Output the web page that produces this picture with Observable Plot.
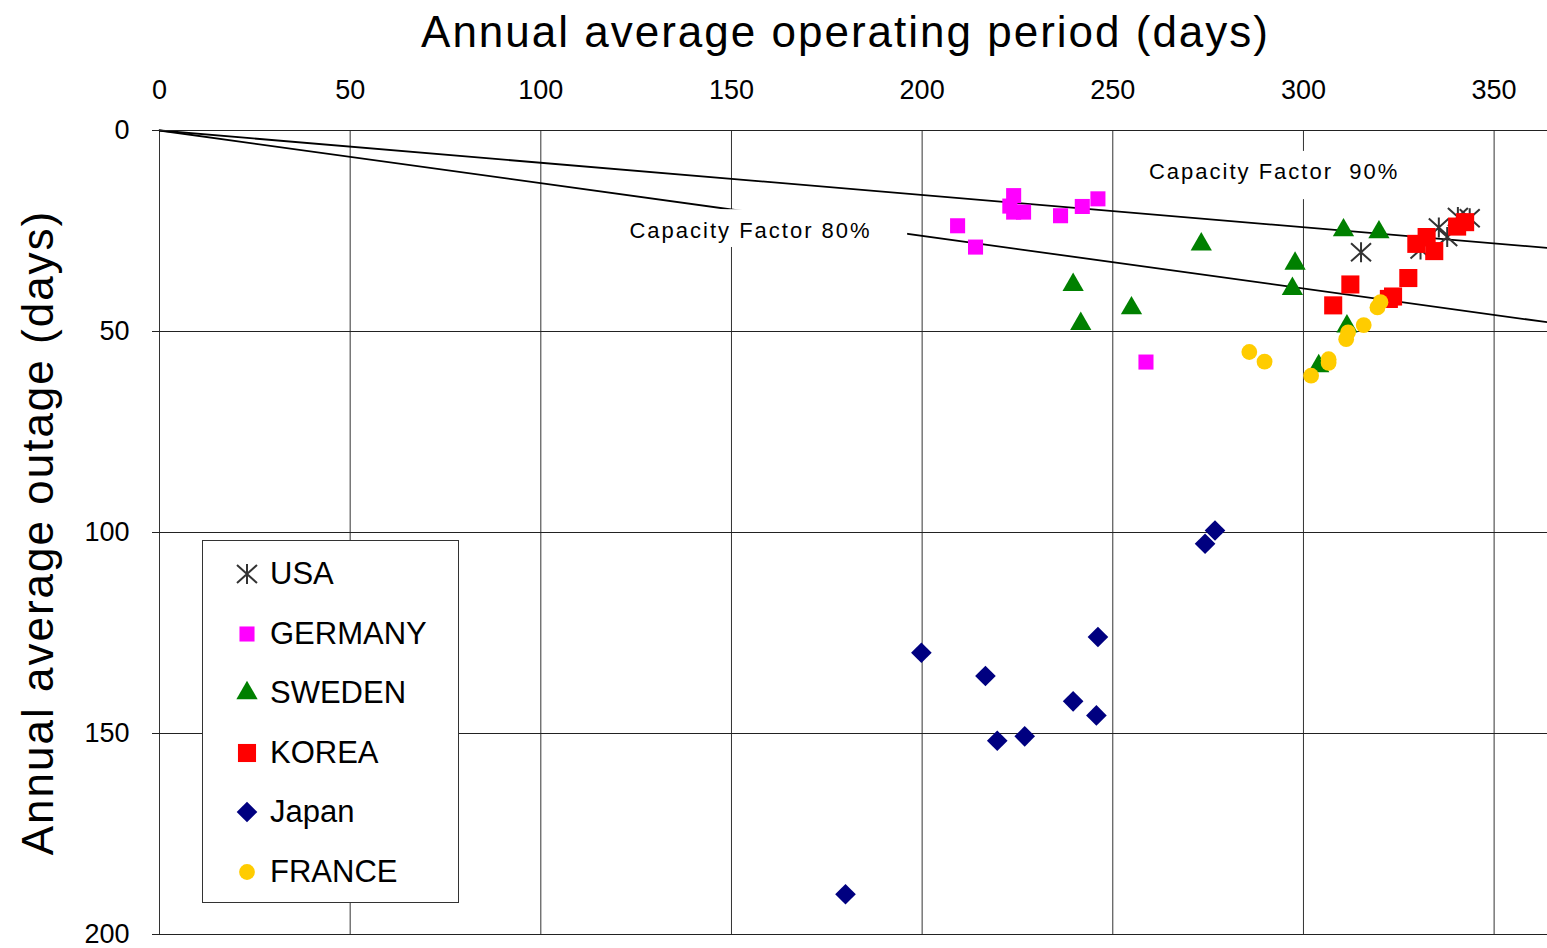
<!DOCTYPE html>
<html>
<head>
<meta charset="utf-8">
<script src="https://cdn.jsdelivr.net/npm/d3@7"></script>
<script src="https://cdn.jsdelivr.net/npm/@observablehq/plot@0.6"></script>
<style>
  body { margin: 0; background: #fff; }
  #chart { position: relative; width: 1547px; height: 948px; overflow: hidden; }
  #legend { position: absolute; left: 202px; top: 540px; width: 257px; height: 363px; box-sizing: border-box;
            border: 1.5px solid #333; background: #fff; font-family: "Liberation Sans", Arial, sans-serif; }
  #legend .row { position: absolute; left: 0; height: 40px; }
  #legend svg { position: absolute; left: 29px; top: 5px; overflow: visible; }
  #legend span { position: absolute; left: 67px; font-size: 31px; white-space: nowrap; line-height: 40px; top: 0; }
</style>
</head>
<body>
<div id="chart"></div>
<script>
// ---------------- data ----------------
const countries = ["USA", "GERMANY", "SWEDEN", "KOREA", "Japan", "FRANCE"];

const usaDays = [315.1, 330.7, 335.5, 337.7, 340.5, 343.6];
const usaOutage = [30.3, 29.6, 24.1, 26.5, 21.5, 21.8];

const germanyDays = [209.3, 214.0, 224.0, 223.0, 224.0, 226.6, 236.3, 242.0, 246.1, 258.7];
const germanyOutage = [23.7, 29.0, 16.2, 18.8, 20.3, 20.3, 21.2, 18.9, 17.0, 57.6];

const swedenDays = [273.2, 239.6, 254.9, 241.6, 310.5, 319.8, 297.8, 297.1, 311.4, 304.0];
const swedenOutage = [28.3, 38.4, 44.2, 48.1, 24.8, 25.3, 33.1, 39.4, 48.7, 58.6];

const koreaDays = [307.8, 312.3, 322.4, 323.5, 327.5, 329.6, 332.3, 334.3, 340.3, 342.4];
const koreaOutage = [43.5, 38.3, 41.9, 41.3, 36.7, 28.2, 26.5, 30.0, 23.9, 22.8];

const japanDays = [276.8, 274.2, 199.8, 216.6, 246.1, 239.6, 245.7, 219.7, 226.9, 179.9];
const japanOutage = [99.5, 102.8, 129.9, 135.7, 126.0, 142.0, 145.5, 151.8, 150.7, 190.0];

const franceDays = [285.8, 289.8, 302.0, 306.6, 306.6, 311.2, 311.7, 315.8, 319.4, 320.2];
const franceOutage = [55.1, 57.5, 61.0, 56.9, 57.8, 51.9, 50.2, 48.4, 44.0, 42.7];

// capacity-factor reference lines (from origin to right edge)
const cfNames = ["90%", "80%"];
const cfLabels = ["Capacity Factor  90%", "Capacity Factor 80%"];
const cfEndDays = [364, 364];
const cfEndOutage = [29.2, 47.7];
// label anchors and white label boxes (data units)
const cfLabelDays = [292.3, 155.0];
const cfLabelOutage = [10.4, 25.1];
const cfBoxDays = [[257, 328], [121.4, 196.2]];
const cfBoxOutage = [[5.2, 17.2], [19.7, 29.1]];

const xTicks = [0, 50, 100, 150, 200, 250, 300, 350];
const yTicks = [0, 50, 100, 150, 200];

const xTitle = "Annual average operating period (days)";
const yTitle = "Annual average outage (days)";

// ---------------- styling ----------------
const FONT = "'Liberation Sans', Arial, sans-serif";
const excelAsterisk = {
  draw(ctx, size) {
    const r = Math.sqrt(size / Math.PI);
    ctx.moveTo(0, -r); ctx.lineTo(0, r);
    ctx.moveTo(-r, -0.9 * r); ctx.lineTo(r, 0.9 * r);
    ctx.moveTo(-r, 0.9 * r); ctx.lineTo(r, -0.9 * r);
  }
};
const countrySymbols = [excelAsterisk, "square", "triangle", "square", "diamond2", "circle"];
const countryColors = ["#333333", "#ff00ff", "#008000", "#ff0000", "#000080", "#ffcc00"];
const countryR = [10, 8.5, 7.9, 10.2, 9.3, 7.9];

const seriesDays = [usaDays, germanyDays, swedenDays, koreaDays, japanDays, franceDays];
const seriesOutage = [usaOutage, germanyOutage, swedenOutage, koreaOutage, japanOutage, franceOutage];

const seriesRows = countries.map((c, i) => seriesDays[i].map((d, j) => ({country: c, days: d, outage: seriesOutage[i][j]})));

const cfLineRows = cfNames.flatMap((n, i) => [
  {cf: n, days: 0, outage: 0},
  {cf: n, days: cfEndDays[i], outage: cfEndOutage[i]}
]);
const cfLabelRows = cfNames.map((n, i) => ({
  cf: n, label: cfLabels[i], days: cfLabelDays[i], outage: cfLabelOutage[i],
  bx1: cfBoxDays[i][0], bx2: cfBoxDays[i][1], by1: cfBoxOutage[i][0], by2: cfBoxOutage[i][1]
}));

const dotMarks = countries.map((c, i) => {
  const isStroke = countrySymbols[i] === excelAsterisk;
  return Plot.dot(seriesRows[i], {
    x: "days", y: "outage", symbol: countrySymbols[i], r: countryR[i],
    fill: isStroke ? "none" : countryColors[i],
    stroke: isStroke ? countryColors[i] : "none",
    strokeWidth: isStroke ? 2 : 0
  });
});

const chart = Plot.plot({
  width: 1547, height: 948,
  marginTop: 130, marginLeft: 159, marginRight: 0, marginBottom: 14,
  style: {fontFamily: FONT, fontSize: "27px", color: "#000", background: "#fff", overflow: "visible"},
  x: {domain: [0, 364]},
  y: {domain: [0, 200], reverse: true},
  marks: [
    Plot.gridX(xTicks, {stroke: "#333", strokeOpacity: 1, strokeWidth: 1}),
    Plot.gridY(yTicks, {stroke: "#222", strokeOpacity: 1, strokeWidth: 1}),
    Plot.line(cfLineRows, {x: "days", y: "outage", z: "cf", stroke: "#000", strokeWidth: 1.8}),
    Plot.rect(cfLabelRows, {x1: "bx1", x2: "bx2", y1: "by1", y2: "by2", fill: "#fff"}),
    Plot.text(cfLabelRows, {x: "days", y: "outage", text: "label", fontSize: 22, fill: "#000"}),
    Plot.ruleY([0], {stroke: "#222", strokeWidth: 1.2}),
    Plot.axisX(xTicks, {anchor: "top", tickSize: 0, tickPadding: 32, fontSize: 27, label: null}),
    Plot.axisY(yTicks, {anchor: "left", tickSize: 7, tickPadding: 23, fontSize: 27, label: null, stroke: "#222"}),
    Plot.text([xTitle], {text: d => d, frameAnchor: "top", dy: -98, dx: -8, fontSize: 44, textAnchor: "middle", lineAnchor: "middle"}),
    Plot.text([yTitle], {text: d => d, frameAnchor: "left", dx: -121, rotate: -90, fontSize: 44, textAnchor: "middle", lineAnchor: "middle"}),
    ...dotMarks
  ]
});

// letter spacing to mimic the wide original typeface
d3.select(chart).selectAll("text")
  .filter(function() { return cfLabels.includes(this.textContent); })
  .style("letter-spacing", "2px");
d3.select(chart).selectAll("text")
  .filter(function() { return this.textContent === xTitle || this.textContent === yTitle; })
  .style("letter-spacing", "2px");

const container = document.getElementById("chart");
container.appendChild(chart);

// ---------------- legend ----------------
const d3Sym = {square: d3.symbolSquare, triangle: d3.symbolTriangle, diamond2: d3.symbolDiamond2, circle: d3.symbolCircle};
const legend = d3.select(container).append("div").attr("id", "legend");
countries.forEach((c, i) => {
  const row = legend.append("div").attr("class", "row").style("top", (33 + i * 59.5 - 20) + "px");
  const svg = row.append("svg").attr("width", 30).attr("height", 30);
  const type = typeof countrySymbols[i] === "string" ? d3Sym[countrySymbols[i]] : countrySymbols[i];
  const isStroke = countrySymbols[i] === excelAsterisk;
  svg.append("path")
    .attr("transform", "translate(15,15)")
    .attr("d", d3.symbol(type, countryR[i] * countryR[i] * Math.PI)())
    .attr("fill", isStroke ? "none" : countryColors[i])
    .attr("stroke", isStroke ? countryColors[i] : "none")
    .attr("stroke-width", isStroke ? 2 : 0);
  row.append("span").text(c);
});
</script>
</body>
</html>
